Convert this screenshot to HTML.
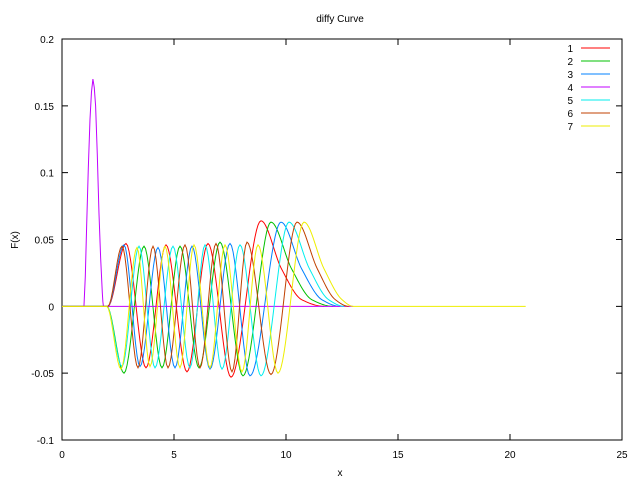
<!DOCTYPE html>
<html><head><meta charset="utf-8"><style>
body{margin:0;background:#fff}
svg{display:block}
text{font-family:"Liberation Sans",sans-serif;font-size:10px;fill:#000}
</style></head><body>
<svg id="c" width="640" height="480">
<rect x="0" y="0" width="640" height="480" fill="#fff"/>
<text x="340" y="22" text-anchor="middle">diffy Curve</text>
<text x="340" y="476" text-anchor="middle">x</text>
<text x="18" y="240" text-anchor="middle" transform="rotate(-90 18 240)">F(x)</text>
<g id="axes"></g><g id="series"></g><g id="legend"></g>
</svg>
<script>
const xTicks=[0,5,10,15,20,25];
const yTicks=[-0.1,-0.05,0,0.05,0.1,0.15,0.2];
const yTickLabels=["-0.1","-0.05","0","0.05","0.1","0.15","0.2"];
const seriesNames=["1","2","3","4","5","6","7"];
const seriesColors=["#ff0000","#00c000","#0080ff","#c000ff","#00eeee","#c04000","#eeee00"];
const s1x=[0,2.05,2.857,3.75,4.643,5.58,6.518,7.545,8.884,9.8,10.7,11.7];
const s1y=[0,0,0.047,-0.046,0.046,-0.049,0.047,-0.053,0.064,0.028,0.005,0];
const s2x=[0,2.0,2.768,3.661,4.464,5.268,6.116,7.054,8.08,9.33,10.25,11.15,12.1];
const s2y=[0,0,-0.05,0.045,-0.046,0.045,-0.046,0.048,-0.052,0.063,0.028,0.005,0];
const s3x=[0,2.05,2.768,3.482,4.286,5.045,5.804,6.607,7.5,8.393,9.777,10.7,11.6,12.4];
const s3y=[0,0,0.046,-0.045,0.044,-0.046,0.045,-0.047,0.047,-0.052,0.063,0.028,0.005,0];
const s4x=[0,0.98,1.1,1.25,1.38,1.5,1.65,1.8,1.85,13.0];
const s4y=[0,0,0.06,0.14,0.17,0.15,0.07,0.01,0,0];
const s5x=[0,2.0,2.679,3.438,4.152,4.955,5.714,6.384,7.143,7.946,8.884,10.134,11.05,11.9,12.6];
const s5y=[0,0,-0.045,0.045,-0.046,0.045,-0.046,0.046,-0.047,0.046,-0.052,0.063,0.028,0.005,0];
const s6x=[0,2.05,2.679,3.393,4.063,4.732,5.491,6.161,6.875,7.589,8.259,9.33,10.491,11.4,12.2,12.8];
const s6y=[0,0,0.045,-0.046,0.045,-0.046,0.046,-0.046,0.047,-0.049,0.048,-0.051,0.063,0.028,0.005,0];
const s7x=[0,2.0,2.634,3.348,3.929,4.598,5.268,5.893,6.607,7.277,8.036,8.75,9.643,10.804,11.7,12.5,13.0,20.7];
const s7y=[0,0,-0.047,0.044,-0.045,0.045,-0.046,0.046,-0.046,0.046,-0.049,0.046,-0.05,0.063,0.028,0.005,0,0];
const SX=[s1x,s2x,s3x,s4x,s5x,s6x,s7x], SY=[s1y,s2y,s3y,s4y,s5y,s6y,s7y];
const L=62,R=622,T=39,B=440;
const xs=v=>L+(v-0)/25*(R-L);
const ys=v=>B-(v+0.1)/0.3*(B-T);
const NS="http://www.w3.org/2000/svg";
function mk(tag,attrs,parent){const e=document.createElementNS(NS,tag);for(const k in attrs)e.setAttribute(k,attrs[k]);parent.appendChild(e);return e;}
function slopes(X,Y){const n=X.length,d=[],m=new Array(n).fill(0);
 for(let i=0;i<n-1;i++)d.push((Y[i+1]-Y[i])/(X[i+1]-X[i]));
 for(let i=1;i<n-1;i++){if(d[i-1]*d[i]>0){const w1=2*(X[i+1]-X[i])+(X[i]-X[i-1]),w2=(X[i+1]-X[i])+2*(X[i]-X[i-1]);m[i]=(w1+w2)/(w1/d[i-1]+w2/d[i]);}}
 return m;}
const ax=document.getElementById('axes');
const frame=mk('rect',{x:L,y:T,width:R-L,height:B-T,fill:'none',stroke:'#000','stroke-width':1},ax);


xTicks.forEach(t=>{const x=xs(t);
 const a=mk('path',{d:`M${x} ${B}v-6M${x} ${T}v6`,stroke:'#000'},ax);
 
 
 const tx=mk('text',{x:x,y:B+18,'text-anchor':'middle'},ax);tx.textContent=String(t);
 
 });
yTicks.forEach((t,i)=>{const y=ys(t);
 const a=mk('path',{d:`M${L} ${y}h6M${R} ${y}h-6`,stroke:'#000'},ax);
 
 
 const tx=mk('text',{x:L-8,y:y+4,'text-anchor':'end'},ax);tx.textContent=yTickLabels[i];
 
 });
const sg=document.getElementById('series');
for(let s=0;s<7;s++){
 const X=SX[s],Y=SY[s],M=slopes(X,Y);let d=`M${xs(X[0])} ${ys(Y[0])}`;
 for(let i=1;i<X.length;i++){
  const h=X[i]-X[i-1];
  const n=Math.max(2,Math.round((xs(X[i])-xs(X[i-1]))/1.5));
  for(let j=1;j<=n;j++){const t=j/n;
   const h00=2*t*t*t-3*t*t+1,h10=t*t*t-2*t*t+t,h01=-2*t*t*t+3*t*t,h11=t*t*t-t*t;
   const xv=X[i-1]+h*t, yv=h00*Y[i-1]+h10*h*M[i-1]+h01*Y[i]+h11*h*M[i];
   d+=`L${xs(xv).toFixed(2)} ${ys(yv).toFixed(2)}`;}
 }
 const p=mk('path',{d:d,fill:'none',stroke:seriesColors[s],'stroke-width':1},sg);
 
 
}
const lg=document.getElementById('legend');
seriesNames.forEach((n,i)=>{const y=48+i*13;
 const t=mk('text',{x:573,y:y+4,'text-anchor':'end'},lg);t.textContent=n;
 
 
 const l=mk('line',{x1:581,x2:610,y1:y,y2:y,stroke:seriesColors[i]},lg);
 
 });
</script>
</body></html>
